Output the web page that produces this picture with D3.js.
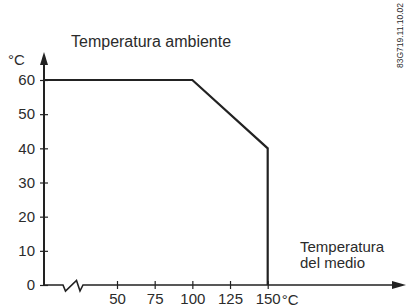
<!DOCTYPE html>
<html>
<head>
<meta charset="utf-8">
<script src="https://cdn.jsdelivr.net/npm/d3@7"></script>
<style>
  body { margin: 0; background: #fff; }
  svg { display: block; }
  text { font-family: "Liberation Sans", Arial, sans-serif; fill: #2b2b2b; }
</style>
</head>
<body>
<svg id="chart" width="406" height="308"></svg>
<script>
// curva de temperatura: medio (x) vs ambiente (y)
var medioTemp = [0, 100, 150, 150];
var ambienteTemp = [60, 60, 40, 0];
var xTicks = [50, 75, 100, 125, 150];
var yTicks = [0, 10, 20, 30, 40, 50, 60];

var svg = d3.select('#chart');
var ink = '#222';

// eje x con corte: el tramo 0..50 va comprimido
var x = d3.scaleLinear().domain([0, 50, 150]).range([44, 117, 267.7]);
var y = d3.scaleLinear().domain([0, 60]).range([285, 80]);
var x0 = x(0), y0 = y(0);

// eje y
var yAxis = svg.append('g').attr('transform', 'translate(' + x0 + ',0)')
  .call(d3.axisLeft(y).tickValues(yTicks).tickSize(4));
yAxis.select('.domain').remove();
yAxis.selectAll('.tick line').attr('x1', 4).attr('x2', -4).attr('stroke', ink).attr('stroke-width', 1.2);
yAxis.selectAll('.tick text').attr('x', -9).style('font-size', '15px');

// eje x
var xAxis = svg.append('g').attr('transform', 'translate(0,' + y0 + ')')
  .call(d3.axisBottom(x).tickValues(xTicks).tickSize(4));
xAxis.select('.domain').remove();
xAxis.selectAll('.tick line').attr('y1', -4).attr('y2', 4).attr('stroke', ink).attr('stroke-width', 1.2);
xAxis.selectAll('.tick text').attr('y', 8).style('font-size', '15px');

// linea del eje y + flecha
svg.append('path').attr('d', 'M' + x0 + ',' + y0 + 'V62')
  .attr('fill', 'none').attr('stroke', ink).attr('stroke-width', 2);
svg.append('path').attr('d', 'M' + x0 + ',52L' + (x0 + 4) + ',65L' + (x0 - 4) + ',65Z')
  .attr('fill', ink);

// linea del eje x con simbolo de corte + flecha
var brk = 63;
svg.append('path')
  .attr('d', 'M' + x0 + ',' + y0 + 'H' + brk +
    'L' + (brk + 2.5) + ',' + (y0 + 6) +
    'L' + (brk + 13.5) + ',' + (y0 - 4.5) +
    'L' + (brk + 17) + ',' + (y0 + 6) +
    'L' + (brk + 20) + ',' + y0 + 'H395')
  .attr('fill', 'none').attr('stroke', ink).attr('stroke-width', 1.6);
svg.append('path').attr('d', 'M406,' + y0 + 'L392,' + (y0 - 4) + 'L392,' + (y0 + 4) + 'Z')
  .attr('fill', ink);

// curva
var pts = medioTemp.map(function(d, i){ return [x(d), y(ambienteTemp[i])]; });
svg.append('path').attr('d', d3.line()(pts))
  .attr('fill', 'none').attr('stroke', ink).attr('stroke-width', 2.2);

// textos
svg.append('text').attr('x', 8).attr('y', 65).style('font-size', '15px').text('°C');
svg.append('text').attr('x', 71).attr('y', 47).style('font-size', '16px').text('Temperatura ambiente');
svg.append('text').attr('x', x(150) + 14).attr('y', 305).style('font-size', '15px').text('°C');
svg.append('text').attr('x', 300).attr('y', 252).style('font-size', '15px').text('Temperatura');
svg.append('text').attr('x', 300).attr('y', 268).style('font-size', '15px').text('del medio');
svg.append('text').attr('transform', 'translate(403,68) rotate(-90)').style('font-size', '8.5px').text('83G719.11.10.02');
</script>
</body>
</html>
